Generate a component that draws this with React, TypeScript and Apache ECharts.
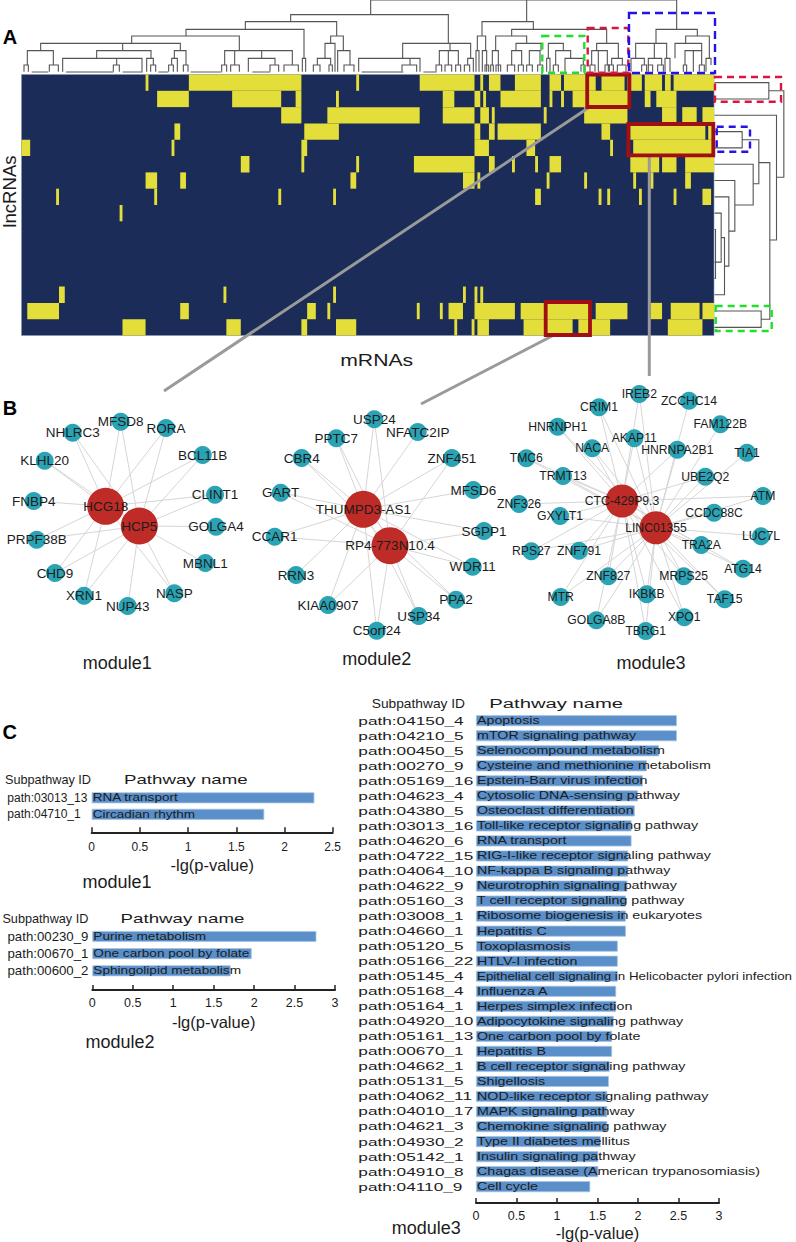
import React, { useEffect, useRef } from "react";
import * as echarts from "echarts";

const FONT = '"Liberation Sans", Arial, sans-serif';
const INK = "#1c1c1c";

// ---- Panel A: interaction heatmap (row, first column, end column) ----
const heatColumns = 240;
const heatRows = 16;
const heatRuns = [
  [0,43,44],[0,58,97],[0,116,117],[0,138,157],[0,159,160],[0,162,166],[0,171,180],[0,183,187],[0,188,199],[0,201,209],[0,210,215],[0,216,222],[0,223,225],[0,226,240],
  [1,47,58],[1,73,90],[1,95,97],[1,109,110],[1,146,150],[1,157,159],[1,160,161],[1,166,180],[1,183,184],[1,187,188],[1,191,211],[1,216,218],[1,220,227],
  [2,90,97],[2,106,138],[2,146,157],[2,159,162],[2,163,164],[2,181,182],[2,195,210],[2,222,227],[2,229,234],[2,236,240],
  [3,53,55],[3,98,110],[3,157,159],[3,162,164],[3,165,180],[3,201,204],[3,211,237],[3,238,240],
  [4,0,3],[4,52,53],[4,97,99],[4,157,162],[4,175,178],[4,204,205],[4,212,240],
  [5,76,79],[5,97,98],[5,116,117],[5,136,157],[5,162,164],[5,170,171],[5,178,179],[5,183,187],[5,211,221],[5,222,227],[5,230,240],
  [6,43,47],[6,55,57],[6,114,116],[6,153,157],[6,158,159],[6,182,183],[6,195,196],[6,212,213],[6,218,219],[6,230,232],
  [7,12,13],[7,46,47],[7,89,90],[7,108,109],[7,178,180],[7,200,201],[7,203,204],[7,214,215],[7,226,227],[7,236,239],
  [8,34,35],
  [13,13,15],[13,70,71],[13,108,109],[13,153,154],[13,157,158],[13,159,160],
  [14,2,13],[14,55,58],[14,99,102],[14,106,107],[14,137,138],[14,145,146],[14,148,153],[14,157,171],[14,173,197],[14,199,210],[14,218,222],[14,225,235],[14,236,240],
  [15,35,43],[15,71,76],[15,97,99],[15,109,116],[15,150,151],[15,156,157],[15,158,162],[15,174,191],[15,193,204],[15,224,236],
];

// Column dendrogram: left leaf, right leaf, merge height, left height, right height
const columnTree = [
  [1112,2030,220,176,132],[1580,1580,220,155,155],[872,1345,176,155,90],[736,1010,155,132,112],[558,912,132,112,45],
  [395,718,112,90,68],[122,541,90,68,68],[368,368,90,68,68],[290,453,68,45,45],[82,160,68,25,25],[72,85,25,5,5],[148,175,25,5,5],
  [188,426,45,5,5],[350,350,45,25,25],[340,358,25,5,5],[440,460,45,5,25],[452,467,25,5,5],
  [523,558,68,45,25],[515,532,45,25,5],[506,520,25,5,5],[550,564,25,5,5],
  [674,877,68,25,25],[704,704,68,25,25],[785,785,68,45,45],[665,680,25,5,5],[692,718,25,5,5],[745,825,45,5,25],[810,836,25,5,5],[852,895,25,5,5],[907,917,45,5,5],
  [992,1030,112,90,68],[975,1005,90,45,5],[952,992,45,25,25],[940,960,25,5,5],[987,997,25,5,5],[1013,1050,68,5,25],[1032,1062,25,5,5],
  [1208,1412,90,45,45],[1076,1260,45,5,5],[1230,1230,45,25,25],[1206,1250,25,5,5],[1350,1350,90,68,68],[1318,1375,68,25,25],[1345,1345,68,25,25],
  [1308,1325,25,5,5],[1335,1355,25,5,5],[1367,1382,25,5,5],[1393,1409,25,5,5],[1403,1420,45,25,5],
  [1446,1600,155,112,132],[1535,1820,132,112,90],[1432,1457,112,68,68],[1428,1437,68,5,5],[1447,1460,68,5,5],
  [1487,1580,112,68,90],[1477,1495,68,25,5],[1455,1466,25,5,5],[1472,1480,25,5,5],[1488,1502,25,5,5],
  [1548,1623,90,68,68],[1535,1565,68,25,25],[1588,1620,68,25,25],[1522,1544,25,5,5],[1555,1570,25,5,5],[1580,1597,25,5,5],[1613,1628,25,5,5],
  [1645,1690,90,45,68],[1667,1712,68,25,45],[1640,1650,45,5,5],[1660,1675,25,5,5],[1695,1750,45,5,25],[1743,1755,25,5,5],
  [1790,1855,90,68,45],[1775,1822,68,25,25],[1795,1795,68,5,5],[1835,1867,45,25,25],[1770,1785,25,5,5],[1815,1828,25,5,5],[1825,1840,25,5,5],[1852,1878,25,5,5],
  [1968,2092,132,90,112],[1907,2000,90,45,45],[1963,1963,90,45,45],[2057,2128,112,90,45],[2025,2105,90,45,68],[2055,2105,68,25,25],[2080,2080,68,5,5],
  [1893,1933,45,5,25],[1945,1985,45,25,25],[1995,2010,45,5,5],[2118,2133,45,5,25],[1925,1940,25,5,5],[1945,1958,25,5,5],[1973,1990,25,5,5],[2050,2060,25,5,5],[2098,2113,25,5,5],
];
const columnLeafRuns = [[95,145],[198,340],[368,428],[475,505],[572,665],[757,810],[1085,1210],[1270,1310]];

// Row dendrogram: upper row, lower row, upper height, lower height, merge height
const rowTree = [
  [0.5,1.5,0,0,163],[3.5,4.5,0,0,83],[4,6.7,83,116,133],[2.5,10.15,0,166,186],[5.4,15,133,140,166],[1,6.3,163,186,208],
  [5.5,8,0,61,116],[6.5,9.6,0,43,61],[7.5,11.75,0,30,43],[8.5,11.5,0,0,20],[10,13.5,20,0,30],[14.5,15.5,0,0,140],[9.5,12.5,0,0,3],
];

// ---- Panel B: co-expression networks ----
const m1Hubs = ["HCG18","HCP5"];
const m1Genes = ["MFSD8","RORA","NHLRC3","KLHL20","BCL11B","CLINT1","FNBP4","GOLGA4","PRPF38B","MBNL1","CHD9","XRN1","NASP","NUP43"];
const m1Links = [3,3,3,3,3,3,1,2,3,2,3,3,3,2]; // bit 1: first hub, bit 2: second hub
const m1Layout = [[105.7,506.3],[139.3,526],[120.7,421.7],[166,428],[72.7,432.7],[44.7,460.7],[202.7,455],[215,494.7],[33.7,501],[216,526.7],[36.7,539.7],[205.3,563],[55,573],[84,595.7],[174.3,593.3],[127.7,606]];

const m2Hubs = ["THUMPD3-AS1","RP4-773N10.4"];
const m2Genes = ["USP24","NFATC2IP","PPTC7","CBR4","ZNF451","GART","MFSD6","SGPP1","CCAR1","WDR11","RRN3","PPA2","KIAA0907","USP34","C5orf24"];
const m2Links = [3,1,3,3,3,3,1,3,3,3,1,3,3,3,3];
const m2Layout = [[363.3,509.3],[390,545.7],[374.3,419.3],[417.7,432],[336.3,438.3],[301.7,458],[452,458],[280.7,492.7],[473.3,490],[484,531],[274.7,536.7],[472.7,566.7],[296,575],[456,599.7],[328,605],[418.7,616],[376.7,630.7]];

const m3Hubs = ["CTC-429P9.3","LINC01355"];
const m3Genes = ["IREB2","ZCCHC14","CRIM1","FAM122B","HNRNPH1","AKAP11","NACA","HNRNPA2B1","TIA1","TMC6","TRMT13","UBE2Q2","ATM","ZNF326","CCDC88C","GXYLT1","LUC7L","TRA2A","RPS27","ZNF791","ATG14","ZNF827","MRPS25","IKBKB","TAF15","MTR","XPO1","GOLGA8B","TBRG1"];
const m3Links = [3,2,3,2,3,3,3,3,2,3,3,3,3,1,2,3,2,3,3,3,3,3,3,3,3,3,3,3,3];
const m3Layout = [[622,501],[656,527.7],[639.3,394],[689,400.7],[599,407.3],[720.3,424.3],[557.7,426.7],[634.3,438.3],[592.3,448.3],[677.3,449.7],[747,452.7],[526.3,458.3],[563,476],[705.3,476.7],[763,496],[519,504],[714,512.7],[560,516],[761,536.3],[701.3,545],[531.3,551.3],[579,550.7],[743,568.7],[608.3,576.3],[683.7,576.3],[646.7,594.3],[724.7,599.3],[560.7,597],[684.3,617.3],[596.3,620.3],[645.7,631]];

// ---- Panel C: pathway enrichment ----
const c1Ids = ["path:03013_13","path:04710_1"];
const c1Names = ["RNA transport","Circadian rhythm"];
const c1Values = [2.31,1.79];

const c2Ids = ["path:00230_9","path:00670_1","path:00600_2"];
const c2Names = ["Purine metabolism","One carbon pool by folate","Sphingolipid metabolism"];
const c2Values = [2.77,1.97,1.71];

const c3Ids = ["path:04150_4","path:04210_5","path:00450_5","path:00270_9","path:05169_16","path:04623_4","path:04380_5","path:03013_16","path:04620_6","path:04722_15","path:04064_10","path:04622_9","path:05160_3","path:03008_1","path:04660_1","path:05120_5","path:05166_22","path:05145_4","path:05168_4","path:05164_1","path:04920_10","path:05161_13","path:00670_1","path:04662_1","path:05131_5","path:04062_11","path:04010_17","path:04621_3","path:04930_2","path:05142_1","path:04910_8","path:04110_9"];
const c3Names = ["Apoptosis","mTOR signaling pathway","Selenocompound metabolism","Cysteine and methionine metabolism","Epstein-Barr virus infection","Cytosolic DNA-sensing pathway","Osteoclast differentiation","Toll-like receptor signaling pathway","RNA transport","RIG-I-like receptor signaling pathway","NF-kappa B signaling pathway","Neurotrophin signaling pathway","T cell receptor signaling pathway","Ribosome biogenesis in eukaryotes","Hepatitis C","Toxoplasmosis","HTLV-I infection","Epithelial cell signaling in Helicobacter pylori infection","Influenza A","Herpes simplex infection","Adipocytokine signaling pathway","One carbon pool by folate","Hepatitis B","B cell receptor signaling pathway","Shigellosis","NOD-like receptor signaling pathway","MAPK signaling pathway","Chemokine signaling pathway","Type II diabetes mellitus","Insulin signaling pathway","Chagas disease (American trypanosomiasis)","Cell cycle"];
const c3Values = [2.48,2.48,2.26,2.11,2.06,2.0,1.96,1.92,1.92,1.88,1.88,1.87,1.85,1.85,1.85,1.75,1.75,1.75,1.73,1.73,1.7,1.68,1.68,1.65,1.64,1.62,1.62,1.62,1.54,1.51,1.51,1.41];

function textStyle(text: string, size: number, align: string, extra: any = {}) {
  return {
    text, x: 0, y: 0, fill: INK, fontSize: size, fontFamily: FONT,
    align, textAlign: align, verticalAlign: "middle", textVerticalAlign: "middle", textBaseline: "middle",
    ...extra,
  };
}

function label(text: string, x: number, y: number, size: number, opts: any = {}) {
  const { scaleX = 1, rotation = 0, weight = "normal", color = INK, align = "center" } = opts;
  return {
    type: "text", x, y, scaleX, rotation, z: 120, silent: true,
    style: textStyle(text, size, align, { fontWeight: weight, fill: color }),
  };
}

function frame(x: number, y: number, w: number, h: number, stroke: string, lineWidth: number, dash?: number[]) {
  return {
    type: "rect", z: 110, silent: true,
    shape: { x, y, width: w, height: h },
    style: { fill: "transparent", stroke, lineWidth, lineDash: dash },
  };
}

function connector(x1: number, y1: number, x2: number, y2: number) {
  return { type: "line", z: 105, silent: true, shape: { x1, y1, x2, y2 }, style: { stroke: "#9a9a9a", lineWidth: 3 } };
}

function network(hubs: string[], genes: string[], codes: number[], layout: number[][], hubSize: number, fontSize: number) {
  const names = [...hubs, ...genes];
  const links: any[] = [];
  codes.forEach((code, i) => {
    if (code & 1) links.push({ source: i + 2, target: 0 });
    if (code & 2) links.push({ source: i + 2, target: 1 });
  });
  return {
    type: "graph", coordinateSystem: "cartesian2d", xAxisIndex: 6, yAxisIndex: 6, layout: "none", silent: true,
    data: names.map((name, i) => ({
      name, value: layout[i], symbolSize: i < 2 ? hubSize : 18,
      itemStyle: { color: i < 2 ? "#bf2b26" : "#2aa4b5" },
    })),
    links,
    lineStyle: { color: "#d6d6d6", width: 1, opacity: 1, curveness: 0 },
    label: { show: true, position: "inside", formatter: "{b}", color: INK, fontSize, fontFamily: FONT },
    z: 3,
  };
}

function pathwayGrid(index: number, top: number, height: number, left: number, width: number, max: number, offset: number, margin: number, size: number, gap: number) {
  return {
    grid: { left, top, width, height, containLabel: false },
    xAxis: {
      gridIndex: index, type: "value", min: 0, max, interval: 0.5, position: "bottom", offset,
      name: "-lg(p-value)", nameLocation: "middle", nameGap: gap,
      nameTextStyle: { fontFamily: FONT, fontSize: 16.5, color: INK },
      axisLine: { show: true, onZero: false, lineStyle: { color: "#222", width: 2 } },
      axisTick: { show: true, inside: true, length: 5, lineStyle: { color: "#222", width: 1.5 } },
      splitLine: { show: false },
      axisLabel: { margin, fontSize: size, fontFamily: FONT, color: INK, showMinLabel: true, showMaxLabel: true },
    },
    yAxis: { gridIndex: index, type: "category", inverse: true, show: false },
  };
}

function pathwaySeries(
  index: number, ids: string[], names: string[], values: number[],
  idOffset: number, idScale: number, nameScale: number, idSize: number, nameScaleByRow: Record<number, number> = {},
) {
  const rows = values.map((_, i) => [0, i]);
  const text = (strings: string[], dx: number, scale: number, size: number, byRow: Record<number, number> = {}) => ({
    type: "custom", xAxisIndex: index, yAxisIndex: index, silent: true, clip: false, z: 4,
    data: rows,
    renderItem: (params: any, api: any) => {
      const p = api.coord([0, params.dataIndex]);
      return {
        type: "text", x: p[0] + dx, y: p[1], scaleX: byRow[params.dataIndex] ?? scale,
        style: textStyle(strings[params.dataIndex], size, "left"),
      };
    },
  });
  return [
    {
      type: "bar", xAxisIndex: index, yAxisIndex: index, data: values, barWidth: 11, silent: true, z: 2,
      itemStyle: { color: "#5a8fc9", borderColor: "#a6c4e4", borderWidth: 0.8 },
    },
    text(ids, idOffset, idScale, idSize),
    text(names, 1, nameScale, 10.5, nameScaleByRow),
  ];
}

export default function App() {
  const ref = useRef<HTMLDivElement>(null);

  useEffect(() => {
    const chart = echarts.init(ref.current!, undefined, { renderer: "svg" });

    const c1 = pathwayGrid(3, 789.55, 33, 91.7, 241, 2.5, 9.8, 9, 12, 24);
    const c2 = pathwayGrid(4, 927.9, 51.45, 92.3, 242.7, 3, 10.6, 7, 12.5, 24);
    const c3 = pathwayGrid(5, 713.2, 481, 476, 243, 3, 8.8, 6, 12.5, 21);
    (c1.yAxis as any).data = c1Ids;
    (c2.yAxis as any).data = c2Ids;
    (c3.yAxis as any).data = c3Ids;

    const hidden = (gridIndex: number, min: number, max: number, inverse = false) => ({
      gridIndex, type: "value", min, max, inverse, show: false, scale: false,
    });

    const treeStroke = { stroke: "#555", lineWidth: 1.1, fill: "none" };

    const option: any = {
      animation: false,
      backgroundColor: "#fff",
      grid: [
        { left: 21.5, top: 74.5, width: 692.5, height: 261, show: true, backgroundColor: "#1b2c58", borderColor: "#8a93aa", borderWidth: 0.6 },
        { left: 21.5, top: 0, width: 692.5, height: 73.33 },
        { left: 714.5, top: 74.5, width: 70, height: 261 },
        c1.grid, c2.grid, c3.grid,
        { left: 0, top: 0, width: 796, height: 1242 },
      ],
      xAxis: [
        hidden(0, 0, heatColumns),
        hidden(1, 64.5, 2142),
        hidden(2, 0, 210),
        c1.xAxis, c2.xAxis, c3.xAxis,
        hidden(6, 0, 796),
      ],
      yAxis: [
        hidden(0, 0, heatRows, true),
        hidden(1, 0, 220),
        hidden(2, 0, heatRows, true),
        c1.yAxis, c2.yAxis, c3.yAxis,
        hidden(6, 0, 1242, true),
      ],
      series: [
        {
          type: "custom", xAxisIndex: 0, yAxisIndex: 0, silent: true, z: 2,
          data: heatRuns,
          renderItem: (_: any, api: any) => {
            const row = api.value(0), a = api.value(1), b = api.value(2);
            const p0 = api.coord([a, row]);
            const p1 = api.coord([b, row + 1]);
            return {
              type: "rect",
              shape: { x: p0[0], y: p0[1], width: p1[0] - p0[0], height: p1[1] - p0[1] },
              style: { fill: "#e3de3a", stroke: "none" },
            };
          },
        },
        {
          type: "custom", xAxisIndex: 1, yAxisIndex: 1, silent: true, z: 2,
          data: columnTree,
          renderItem: (_: any, api: any) => {
            const l = api.value(0), r = api.value(1), t = api.value(2), hl = api.value(3), hr = api.value(4);
            return {
              type: "polyline",
              shape: { points: [api.coord([l, hl]), api.coord([l, t]), api.coord([r, t]), api.coord([r, hr])] },
              style: treeStroke,
            };
          },
        },
        {
          type: "custom", xAxisIndex: 1, yAxisIndex: 1, silent: true, z: 2,
          data: columnLeafRuns,
          renderItem: (_: any, api: any) => {
            const p0 = api.coord([api.value(0), 4]);
            const p1 = api.coord([api.value(1), 4]);
            return {
              type: "line",
              shape: { x1: p0[0], y1: p0[1], x2: p1[0], y2: p1[1] },
              style: { stroke: "#8a8a8a", lineWidth: 1.4 },
            };
          },
        },
        {
          type: "custom", xAxisIndex: 2, yAxisIndex: 2, silent: true, z: 2,
          data: rowTree,
          renderItem: (_: any, api: any) => {
            const ya = api.value(0), yb = api.value(1), da = api.value(2), db = api.value(3), t = api.value(4);
            return {
              type: "polyline",
              shape: { points: [api.coord([da, ya]), api.coord([t, ya]), api.coord([t, yb]), api.coord([db, yb])] },
              style: treeStroke,
            };
          },
        },
        network(m1Hubs, m1Genes, m1Links, m1Layout, 37, 13.5),
        network(m2Hubs, m2Genes, m2Links, m2Layout, 37, 13.5),
        network(m3Hubs, m3Genes, m3Links, m3Layout, 33, 12.2),
        ...pathwaySeries(3, c1Ids, c1Names, c1Values, -84.4, 1.0, 1.29, 12),
        ...pathwaySeries(4, c2Ids, c2Names, c2Values, -84.8, 1.085, 1.3, 12.2),
        ...pathwaySeries(5, c3Ids, c3Names, c3Values, -117.7, 1.5, 1.36, 11.5, { 17: 1.27 }),
      ],
      graphic: {
        elements: [
          connector(589.3, 107.3, 164, 391),
          connector(554, 335, 421, 404),
          connector(649.3, 156.7, 649.3, 376),
          frame(587.2, 74.5, 42.2, 32.5, "#a00f14", 3.8),
          frame(628.3, 124, 85, 31.3, "#a00f14", 3.8),
          frame(545.7, 302, 44.3, 33, "#a00f14", 3.8),
          frame(542.3, 36, 42, 36.7, "#22e02a", 2.4, [7, 5]),
          frame(587.7, 28, 40.6, 44.7, "#d8163f", 2.4, [7, 5]),
          frame(629, 13, 86, 60, "#2412e6", 2.4, [8, 5]),
          frame(715, 77, 66, 24.7, "#d8163f", 2.4, [7, 5]),
          frame(716.7, 126.7, 33.3, 25, "#2412e6", 2.4, [7, 5]),
          frame(715.7, 306, 56, 25, "#22e02a", 2.4, [7, 5]),
          label("A", 10, 36.7, 20, { weight: "bold", color: "#000" }),
          label("B", 10, 408, 20, { weight: "bold", color: "#000" }),
          label("C", 9.7, 731.7, 20, { weight: "bold", color: "#000" }),
          label("lncRNAs", 9.5, 191.5, 18.6, { rotation: Math.PI / 2 }),
          label("mRNAs", 376.7, 360.7, 16.3, { scaleX: 1.3 }),
          label("module1", 117.2, 662.7, 18),
          label("module2", 376.7, 659.3, 18),
          label("module3", 651, 662.7, 18),
          label("Subpathway ID", 48, 780, 12.7),
          label("Pathway name", 185.8, 778.7, 13, { scaleX: 1.44 }),
          label("module1", 117, 882.3, 18),
          label("Subpathway ID", 45.4, 919.3, 12.7),
          label("Pathway name", 182.5, 918, 13, { scaleX: 1.44 }),
          label("module2", 120, 1041.7, 18),
          label("Subpathway ID", 418.4, 703.3, 13, { scaleX: 1.06 }),
          label("Pathway name", 556.2, 703.3, 13.5, { scaleX: 1.5 }),
          label("module3", 426.3, 1228.3, 18),
        ],
      },
    };

    chart.setOption(option);
    return () => chart.dispose();
  }, []);

  return (
    <div
      ref={ref}
      style={{ position: "absolute", left: 0, top: 0, width: 796, height: 1242, background: "#fff" }}
    />
  );
}
